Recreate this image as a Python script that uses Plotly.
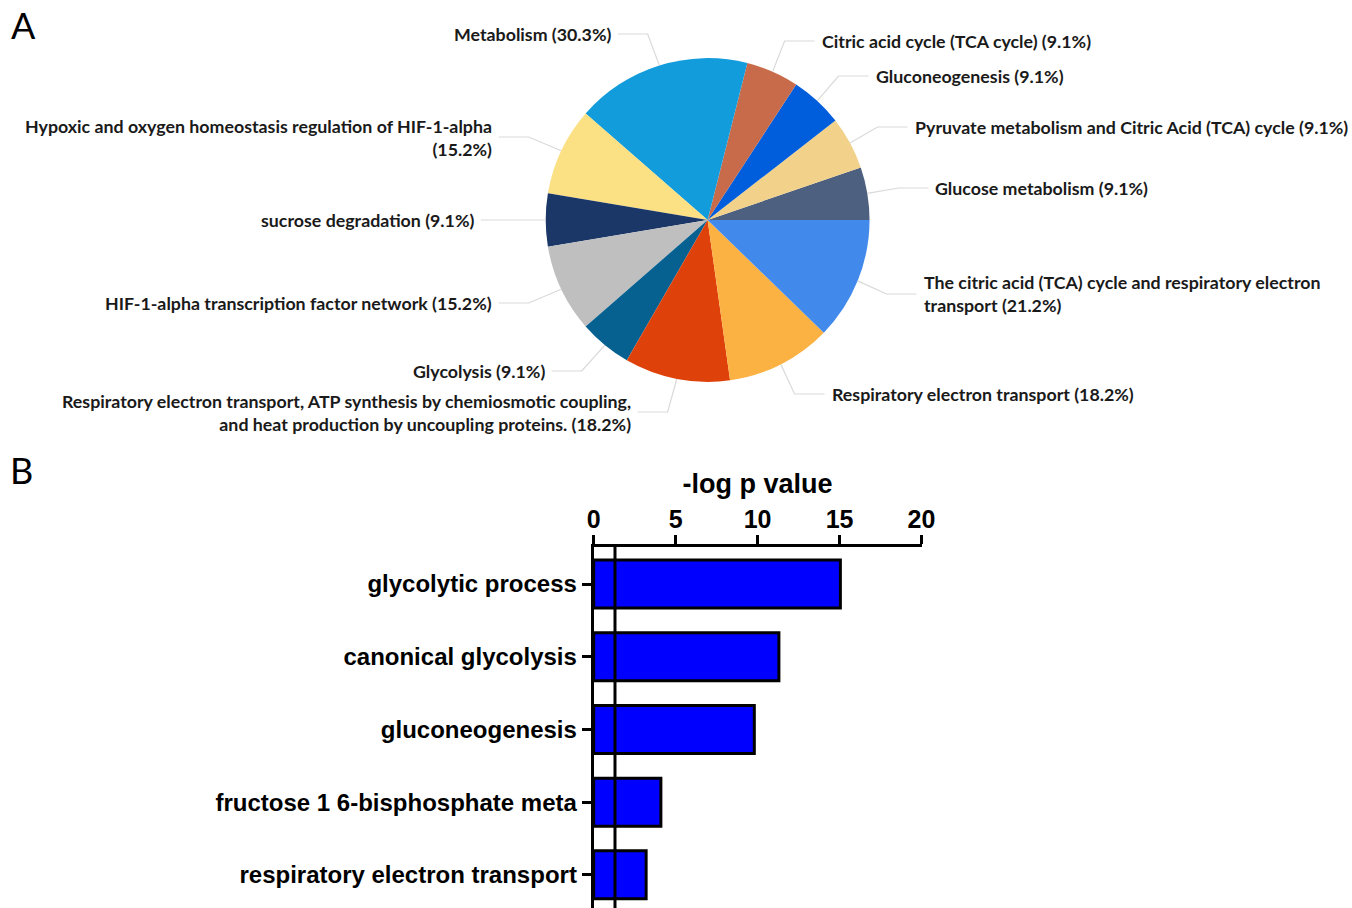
import math
import plotly.graph_objects as go

W, H = 1352, 908

# ---------------- Data: panel A (pie) ----------------
pie_labels = [
    "Glucose metabolism (9.1%)",
    "Pyruvate metabolism and Citric Acid (TCA) cycle (9.1%)",
    "Gluconeogenesis (9.1%)",
    "Citric acid cycle (TCA cycle) (9.1%)",
    "Metabolism (30.3%)",
    "Hypoxic and oxygen homeostasis regulation of HIF-1-alpha<br>(15.2%)",
    "sucrose degradation (9.1%)",
    "HIF-1-alpha transcription factor network (15.2%)",
    "Glycolysis (9.1%)",
    "Respiratory electron transport, ATP synthesis by chemiosmotic coupling,<br>and heat production by uncoupling proteins. (18.2%)",
    "Respiratory electron transport (18.2%)",
    "The citric acid (TCA) cycle and respiratory electron<br>transport (21.2%)",
]
pie_percent = [9.1, 9.1, 9.1, 9.1, 30.3, 15.2, 9.1, 15.2, 9.1, 18.2, 18.2, 21.2]
pie_colors = ["#4E607F", "#F2D28B", "#005DDB", "#C86B4A", "#139CDB", "#FBE084",
              "#1B3767", "#BFBFBF", "#066191", "#DF410A", "#FBB243", "#418AEC"]

# label anchor positions (pixels) and side (layout only)
label_pos = [(933, 188, "L"), (912, 127, "L"), (873, 76, "L"), (819, 41, "L"),
             (612, 34, "R"), (493, 137, "R"), (475, 220, "R"), (493, 303, "R"),
             (546, 371, "R"), (632, 412, "R"), (829, 394, "L"), (921, 294, "L")]

# ---------------- Data: panel B (bars) ----------------
bar_terms = ["glycolytic process", "canonical glycolysis", "gluconeogenesis",
             "fructose 1 6-bisphosphate meta", "respiratory electron transport"]
bar_values = [15.05, 11.3, 9.8, 4.1, 3.2]
threshold = 1.3
x_ticks = [0, 5, 10, 15, 20]

# ---------------- Layout geometry ----------------
cx, cy, r = 707, 220, 162
SX, OX = 0.985, 6.0  # empirical horizontal calibration of the rendered page


def px(x):
    return ((x - OX) / SX) / W


def py(y):
    return 1 - y / H


total = sum(pie_percent)
first_deg = pie_percent[0] / total * 360.0

fig = go.Figure()

fig.add_trace(go.Pie(
    values=pie_percent, labels=pie_labels, sort=False, direction="counterclockwise",
    rotation=90 - first_deg, marker=dict(colors=pie_colors, line=dict(width=0)),
    textinfo="none", hoverinfo="label", showlegend=False,
    domain=dict(x=[px(cx - r), px(cx + r)], y=[py(cy + r), py(cy - r)]),
))

fig.add_trace(go.Bar(
    x=bar_values, y=list(range(len(bar_terms))), orientation="h",
    marker=dict(color="#0000FF", line=dict(color="black", width=3)),
    width=0.66, showlegend=False, xaxis="x", yaxis="y",
))

shapes = []
annotations = []
cum = 0.0
for val, lab, (lx, ly, side) in zip(pie_percent, pie_labels, label_pos):
    mid = (cum + val / 2) / total * 2 * math.pi
    cum += val
    ex = cx + r * math.cos(mid)
    ey = cy - r * math.sin(mid)
    if side == "L":
        elbow = lx - 35
        end = lx - 5
    else:
        elbow = lx + 35
        end = lx + 5
    path = f"M {px(ex)},{py(ey)} L {px(elbow)},{py(ly)} L {px(end)},{py(ly)}"
    shapes.append(dict(type="path", path=path, xref="paper", yref="paper",
                       line=dict(color="#D9D9D9", width=1.2)))
    annotations.append(dict(
        x=px(lx), y=py(ly), xref="paper", yref="paper", text=lab, showarrow=False,
        xanchor="left" if side == "L" else "right", yanchor="middle",
        align="left" if side == "L" else "right",
        font=dict(family="Lato", size=17.8, color="#1a1a1a", weight="bold"),
    ))

# threshold line
shapes.append(dict(type="line", xref="x", yref="y domain", x0=threshold, x1=threshold,
                   y0=0, y1=1, line=dict(color="black", width=3), layer="above"))

# panel letters
annotations.append(dict(x=px(8), y=py(25), xref="paper", yref="paper", text="A",
                        showarrow=False, xanchor="left", yanchor="middle",
                        font=dict(family="Lato", size=36, color="black")))
annotations.append(dict(x=px(7), y=py(470), xref="paper", yref="paper", text="B",
                        showarrow=False, xanchor="left", yanchor="middle",
                        font=dict(family="Lato", size=36, color="black")))

fig.update_layout(
    autosize=True, margin=dict(l=0, r=0, t=0, b=0),
    paper_bgcolor="white", plot_bgcolor="white",
    shapes=shapes, annotations=annotations,
    xaxis=dict(domain=[px(593), px(921)], range=[0, 20], side="top", anchor="y",
               tickvals=x_ticks, ticks="outside", ticklen=9, tickwidth=3,
               tickcolor="black", showline=True, linewidth=3, linecolor="black",
               showgrid=False, zeroline=False, ticklabelstandoff=-3,
               tickfont=dict(family="Liberation Sans", size=25, color="black", weight="bold"),
               title=dict(text="-log p value", standoff=4,
                          font=dict(family="Liberation Sans", size=27, color="black",
                                    weight="bold"))),
    yaxis=dict(domain=[0, py(547)], range=[4.456, -0.51], anchor="x",
               tickvals=list(range(len(bar_terms))), ticktext=bar_terms,
               ticks="outside", ticklen=9, tickwidth=3, tickcolor="black",
               showline=True, linewidth=3, linecolor="black", showgrid=False,
               zeroline=False,
               tickfont=dict(family="Liberation Sans", size=24, color="black", weight="bold")),
)

fig.write_html("out.html", default_width="100%", default_height="100vh")
